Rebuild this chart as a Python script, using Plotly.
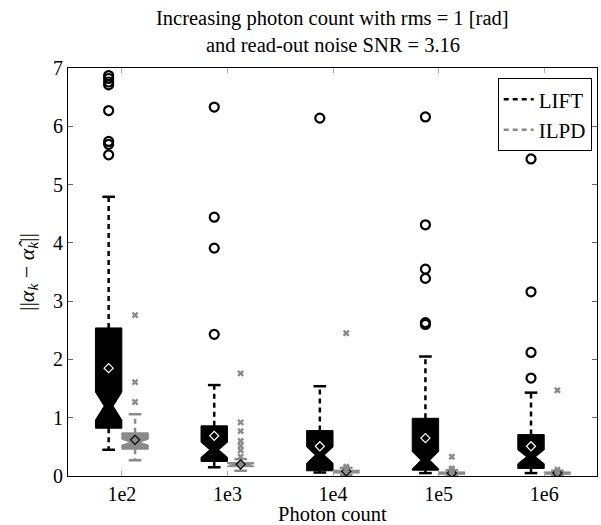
import plotly.graph_objects as go

categories = ["1e2", "1e3", "1e4", "1e5", "1e6"]

# LIFT statistics
lift_lw = [0.45, 0.15, 0.06, 0.05, 0.05]
lift_q1 = [0.82, 0.25, 0.09, 0.10, 0.13]
lift_med = [1.20, 0.45, 0.36, 0.27, 0.33]
lift_q3 = [2.54, 0.86, 0.78, 0.99, 0.71]
lift_uw = [4.79, 1.56, 1.54, 2.05, 1.43]
lift_mean = [1.85, 0.69, 0.51, 0.65, 0.51]
lift_notch = [0.24, 0.13, 0.14, 0.15, 0.12]
lift_out = [
    [6.87, 6.82, 6.76, 6.71, 6.27, 5.74, 5.69, 5.51],
    [6.33, 4.44, 3.91, 2.43],
    [6.14],
    [6.16, 4.31, 3.55, 3.39, 2.63, 2.60],
    [5.44, 3.16, 2.12, 1.68],
]

# ILPD statistics
ilpd_lw = [0.27, 0.09, 0.02, 0.01, 0.01]
ilpd_q1 = [0.46, 0.16, 0.05, 0.03, 0.03]
ilpd_med = [0.58, 0.19, 0.07, 0.05, 0.04]
ilpd_q3 = [0.74, 0.23, 0.10, 0.07, 0.07]
ilpd_uw = [1.06, 0.29, 0.14, 0.10, 0.09]
ilpd_mean = [0.62, 0.20, 0.08, 0.05, 0.05]
ilpd_notch = [0.05, 0.02, 0.01, 0.01, 0.01]
ilpd_out = [
    [2.76, 1.61, 1.27],
    [1.76, 0.92, 0.77, 0.60, 0.52, 0.44, 0.33],
    [2.45, 0.16, 0.13],
    [0.33, 0.13, 0.11],
    [1.47, 0.11],
]

OFFSET = 0.125
BOXW = 0.25
CAP = 0.06
GRAY = "#8a8a8a"
FONT = "Liberation Serif"

fig = go.Figure()


def add_series(sign, lw, q1, med, q3, uw, mean, notch, outs, color, mean_color,
               out_symbol, out_size, out_lw):
    for i in range(len(categories)):
        x = i + sign * OFFSET
        fig.add_trace(go.Box(
            x=[x], q1=[q1[i]], median=[med[i]], q3=[q3[i]],
            lowerfence=[q1[i]], upperfence=[q3[i]],
            notchspan=[notch[i]], notched=True, notchwidth=0.33,
            width=BOXW, whiskerwidth=0,
            fillcolor=color, line=dict(color=color, width=1),
            boxpoints=False, showlegend=False, hoverinfo="skip",
        ))
        for a, b in ((q3[i], uw[i]), (q1[i], lw[i])):
            fig.add_trace(go.Scatter(
                x=[x, x], y=[a, b], mode="lines",
                line=dict(color=color, width=2.5, dash="5px,4px"),
                showlegend=False, hoverinfo="skip",
            ))
        for v in (uw[i], lw[i]):
            fig.add_trace(go.Scatter(
                x=[x - CAP, x + CAP], y=[v, v], mode="lines",
                line=dict(color=color, width=2.5),
                showlegend=False, hoverinfo="skip",
            ))
        fig.add_trace(go.Scatter(
            x=[x], y=[mean[i]], mode="markers",
            marker=dict(symbol="diamond-open", size=7, color=mean_color,
                        line=dict(width=1.2, color=mean_color)),
            showlegend=False, hoverinfo="skip",
        ))
        fig.add_trace(go.Scatter(
            x=[x] * len(outs[i]), y=outs[i], mode="markers",
            marker=dict(symbol=out_symbol, size=out_size, color=color,
                        line=dict(width=out_lw, color=color)),
            showlegend=False, hoverinfo="skip",
        ))


add_series(-1, lift_lw, lift_q1, lift_med, lift_q3, lift_uw, lift_mean,
           lift_notch, lift_out, "black", "white", "circle-open", 9, 2.2)
add_series(1, ilpd_lw, ilpd_q1, ilpd_med, ilpd_q3, ilpd_uw, ilpd_mean,
           ilpd_notch, ilpd_out, GRAY, "black", "x", 6, 0)

fig.add_trace(go.Scatter(x=[None], y=[None], mode="lines", name="LIFT",
                         line=dict(color="black", width=2.5, dash="5px,4px")))
fig.add_trace(go.Scatter(x=[None], y=[None], mode="lines", name="ILPD",
                         line=dict(color=GRAY, width=2.5, dash="5px,4px")))

TOP, BOT = 68, 49
plot_h = 525 - TOP - BOT


def ypaper(ypix):
    return 1 - (ypix - TOP) / plot_h


fig.update_layout(
    width=601, height=525,
    margin=dict(l=68, r=4, t=TOP, b=BOT),
    paper_bgcolor="white", plot_bgcolor="white",
    font=dict(family=FONT, size=20, color="black"),
    boxmode="overlay",
    showlegend=True,
    legend=dict(x=0.99, y=0.975, xanchor="right", yanchor="top",
                bordercolor="black", borderwidth=1, bgcolor="white",
                font=dict(family=FONT, size=21), tracegroupgap=0,
                itemwidth=30),
    xaxis=dict(
        range=[-0.51, 4.5], tickvals=list(range(len(categories))),
        ticktext=categories, ticks="inside", ticklen=5, tickcolor="#aaaaaa",
        showline=True, linecolor="black", linewidth=1, mirror="ticks",
        showgrid=False, zeroline=False,
    ),
    yaxis=dict(
        range=[0, 7], dtick=1, ticks="inside", ticklen=5, tickcolor="#666666",
        showline=True, linecolor="black", linewidth=1, mirror="ticks",
        showgrid=False, zeroline=False,
        title=dict(text="||<i>α<sub>k</sub></i> − <i>α\u0302<sub>k</sub></i>||",
                   font=dict(size=22), standoff=12),
    ),
    annotations=[
        dict(text="Increasing photon count with rms = 1 [rad]", x=0.5,
             y=ypaper(18), yanchor="middle",
             xref="paper", yref="paper", showarrow=False,
             font=dict(size=20.5)),
        dict(text="and read-out noise SNR = 3.16", x=0.5,
             y=ypaper(45), yanchor="middle",
             xref="paper", yref="paper", showarrow=False,
             font=dict(size=20.5)),
        dict(text="Photon count", x=0.5, y=ypaper(514), yanchor="middle",
             xref="paper", yref="paper", showarrow=False,
             font=dict(size=20.5)),
    ],
)

fig.write_html("out.html", config={"displayModeBar": False})

with open("out.html", "r", encoding="utf-8") as f:
    html = f.read()
html = html.replace("<body>", '<body style="margin:0;padding:0;">', 1)
with open("out.html", "w", encoding="utf-8") as f:
    f.write(html)
